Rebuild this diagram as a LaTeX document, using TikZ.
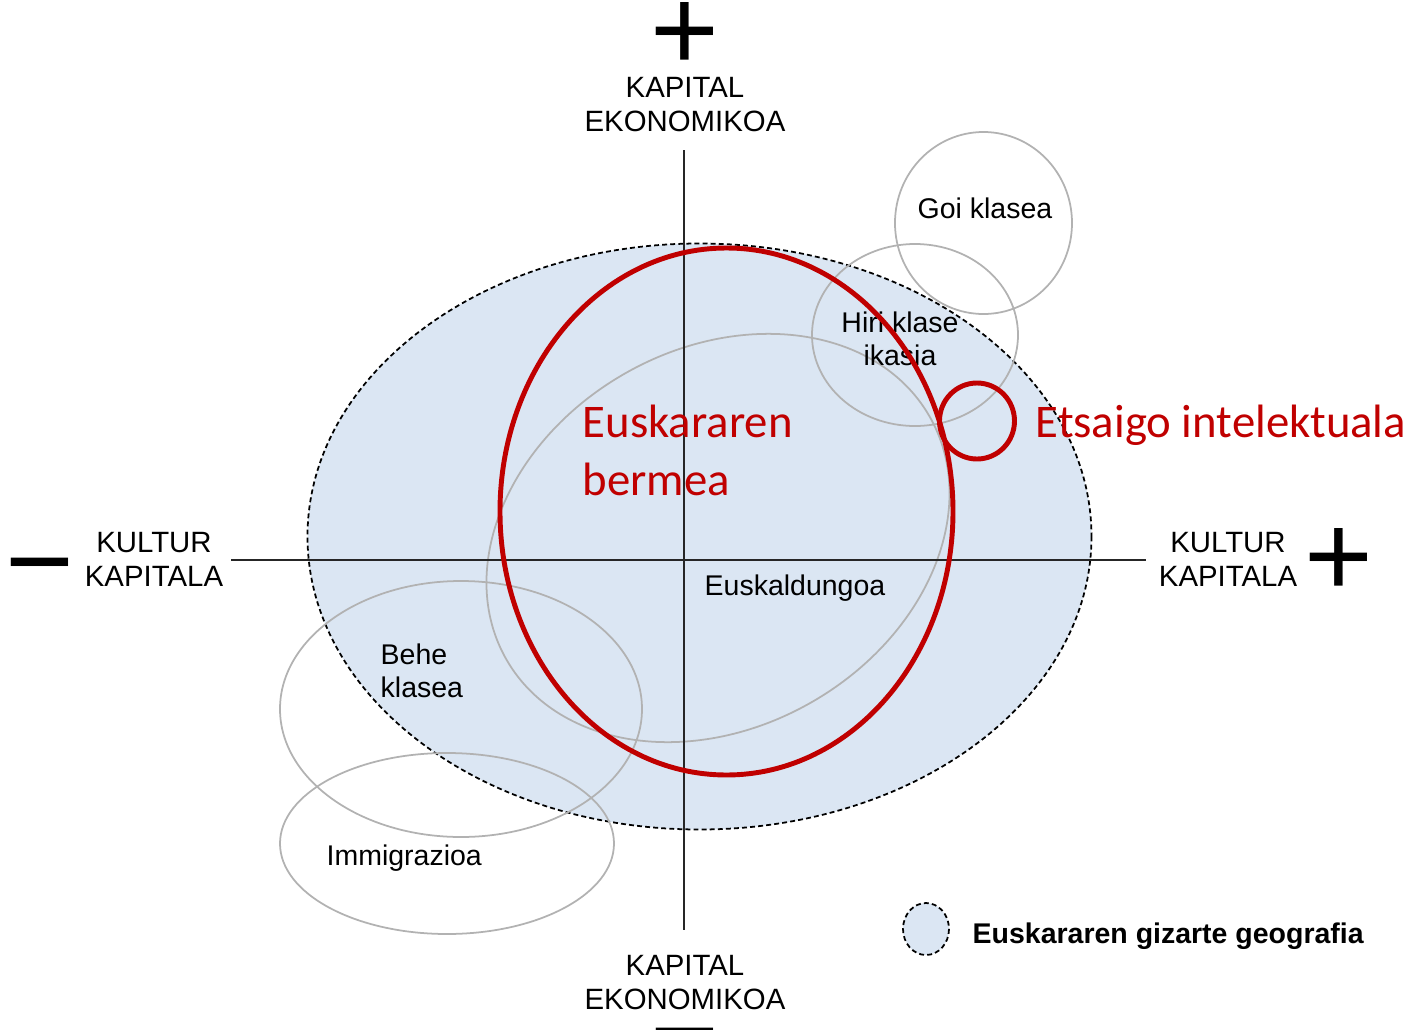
\documentclass[tikz,border=0pt]{standalone}
\usepackage{fontspec}
\setmainfont{Liberation Sans}
\newfontfamily\calibrifont{Carlito}
\definecolor{geoblue}{RGB}{219,230,243}
\definecolor{bermered}{RGB}{192,0,0}
\definecolor{classgray}{RGB}{178,178,178}
\begin{document}
\begin{tikzpicture}[x=0.01cm, y=-0.01cm,
      every node/.style={inner sep=0pt, font=\fontsize{8.1}{9.3}\selectfont},
      axislabel/.style={align=center, anchor=base, font=\fontsize{8.35}{9.6}\selectfont},
      classlabel/.style={align=center, anchor=base},
      leftlabel/.style={align=left, anchor=base west},
      sign/.style={anchor=base, font=\fontsize{33.5}{33.5}\selectfont},
      classring/.style={draw=classgray, line width=0.5pt},
      geoarea/.style={draw=black, fill=geoblue, line width=0.5pt, dash pattern=on 1.4pt off 0.9pt},
      redring/.style={draw=bermered, line width=1.4pt},
      redlabel/.style={leftlabel, text=bermered, font=\calibrifont\fontsize{13.3}{16.4}\selectfont},
      axis/.style={draw=black!85, line width=0.55pt}
  ]
    \useasboundingbox (0,0) rectangle (1420,1030);

    \path[geoarea] (699.5,536.5) ellipse [x radius=392, y radius=293];

    \draw[classring] (983.5,223) ellipse [x radius=88.5, y radius=91];
    \draw[classring] (915,335) ellipse [x radius=103, y radius=91];
    \draw[classring, rotate around={30:(718,538)}] (718,538) ellipse [x radius=244, y radius=189];
    \draw[classring] (461,709) ellipse [x radius=181, y radius=128];
    \draw[classring] (447,843.5) ellipse [x radius=167, y radius=90.5];

    \coordinate (ktop) at (684,150);
    \coordinate (kbot) at (684,930);
    \coordinate (kleft) at (231,560);
    \coordinate (kright) at (1146,560);
    \draw[axis] (ktop) -- (kbot);
    \draw[axis] (kleft) -- (kright);

    \node[sign] (plustop) at (685,70) {+};
    \node[sign] (minusbot) at (685,1071) {\char"2212};
    \node[sign] (minusleft) at (40,601) {\char"2212};
    \node[sign] (plusright) at (1339,596) {+};

    \node[axislabel] (ektop) at (685,131) {KAPITAL\\EKONOMIKOA};
    \node[axislabel] (ekbot) at (685,1009) {KAPITAL\\EKONOMIKOA};
    \node[axislabel] (kuleft) at (154,586) {KULTUR\\KAPITALA};
    \node[axislabel] (kuright) at (1228,586) {KULTUR\\KAPITALA};

    \node[classlabel] (goi) at (985,218) {Goi klasea};
    \node[classlabel] (hiri) at (900,365) {Hiri klase\\ikasia};
    \node[classlabel] (euskaldun) at (795,595) {Euskaldungoa};
    \node[leftlabel] (behe) at (380,697) {Behe\\klasea};
    \node[leftlabel] (immig) at (326,865) {Immigrazioa};

    \draw[redring] (726.5,511.5) ellipse [x radius=226.5, y radius=263.5];
    \draw[redring] (977,421) ellipse [x radius=37.5, y radius=38];
    \node[redlabel] (bermea) at (582,495) {Euskararen\\bermea};
    \node[redlabel] (etsaigo) at (1035,437) {Etsaigo intelektuala};

    \path[geoarea] (926,929) ellipse [x radius=23, y radius=26];
    \node[leftlabel, font=\bfseries\fontsize{8.1}{9.3}\selectfont] (legend) at (972,943) {Euskararen gizarte geografia};
  \end{tikzpicture}
\end{document}
